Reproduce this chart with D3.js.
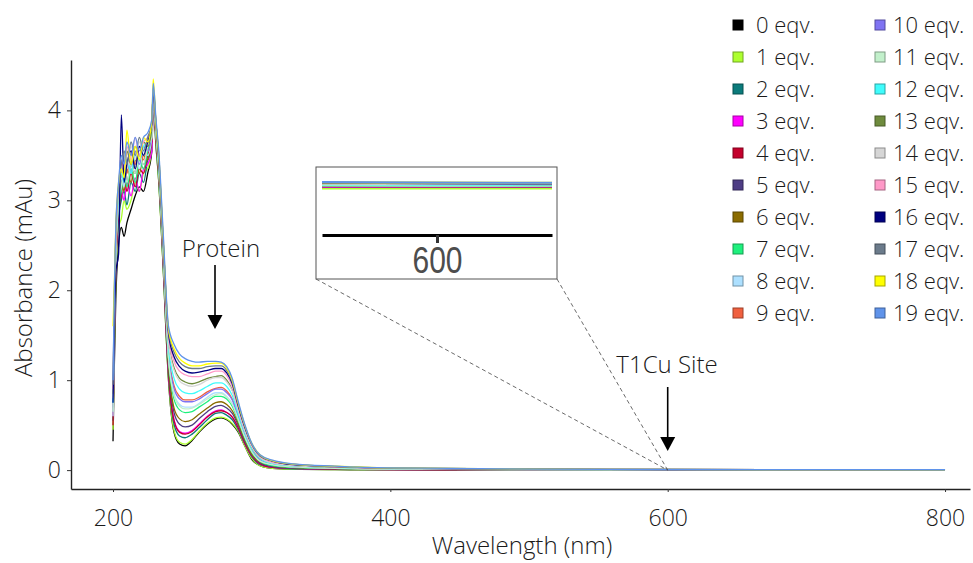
<!DOCTYPE html>
<html>
<head>
<meta charset="utf-8">
<script src="https://cdn.jsdelivr.net/npm/d3@7"></script>
<style>
  body { margin: 0; background: #fff; }
  svg { display: block; font-family: "Open Sans", sans-serif; font-weight: 300; }
</style>
</head>
<body>
<svg id="chart" width="973" height="563"></svg>
<script>
// wavelength grid (nm)
const wavelengths = [200, 201, 202, 204, 206, 208, 210, 213, 216, 219, 222, 225, 228, 229, 231, 233, 236,
  240, 244, 248, 252, 257, 262, 268, 274, 278, 282, 286, 290, 295, 300, 306, 315, 330, 360, 400, 500, 600, 800];

const eqvLabels = ["0 eqv.", "1 eqv.", "2 eqv.", "3 eqv.", "4 eqv.", "5 eqv.", "6 eqv.", "7 eqv.", "8 eqv.", "9 eqv.",
  "10 eqv.", "11 eqv.", "12 eqv.", "13 eqv.", "14 eqv.", "15 eqv.", "16 eqv.", "17 eqv.", "18 eqv.", "19 eqv."];

const eqvColors = ["#000000", "#adff2f", "#0b7b7b", "#ff00ff", "#c4002c", "#4e3d85", "#8b6c00", "#1ef07d", "#ade0ff", "#f0603f",
  "#7f73f2", "#c2f0cb", "#3ffcfc", "#6e8b3d", "#d6d6d6", "#ff99c8", "#000080", "#6b7b8b", "#ffff00", "#5f93ea"];

// absorbance (mAu) per titration step
const eqv0  = [0.32, 1.20, 1.90, 2.50, 2.70, 2.60, 2.75, 2.90, 3.05, 3.15, 3.10, 3.30, 3.55, 4.05, 3.60, 3.20, 2.30,
  1.00, 0.42, 0.29, 0.27, 0.33, 0.42, 0.51, 0.57, 0.58, 0.56, 0.51, 0.43, 0.27, 0.12, 0.05, 0.02, 0.01, 0.005, 0.003, 0.002, 0.001, 0.0];
const eqv1  = [0.45, 1.40, 2.10, 2.70, 2.80, 3.00, 2.90, 3.00, 3.20, 3.10, 3.30, 3.35, 3.60, 4.10, 3.65, 3.20, 2.30,
  1.01, 0.44, 0.31, 0.29, 0.34, 0.43, 0.52, 0.58, 0.59, 0.57, 0.52, 0.44, 0.27, 0.13, 0.05, 0.02, 0.01, 0.006, 0.003, 0.001, 0.0, 0.0];
const eqv2  = [0.55, 1.50, 2.20, 2.80, 3.00, 3.10, 2.95, 3.20, 3.10, 3.30, 3.20, 3.45, 3.60, 4.15, 3.70, 3.25, 2.35,
  1.05, 0.51, 0.38, 0.36, 0.40, 0.47, 0.56, 0.63, 0.64, 0.61, 0.56, 0.46, 0.29, 0.15, 0.06, 0.03, 0.015, 0.01, 0.005, 0.003, 0.002, 0.0];
const eqv3  = [0.60, 1.60, 2.30, 2.90, 3.10, 3.00, 3.20, 3.05, 3.25, 3.10, 3.35, 3.40, 3.55, 4.10, 3.70, 3.30, 2.40,
  1.08, 0.56, 0.43, 0.41, 0.44, 0.51, 0.60, 0.66, 0.67, 0.64, 0.59, 0.48, 0.30, 0.16, 0.07, 0.03, 0.02, 0.01, 0.006, 0.003, 0.002, 0.001];
const eqv4  = [0.50, 1.50, 2.20, 2.85, 3.05, 3.25, 3.10, 3.30, 3.15, 3.35, 3.30, 3.50, 3.65, 4.15, 3.70, 3.30, 2.40,
  1.08, 0.55, 0.42, 0.40, 0.43, 0.50, 0.59, 0.65, 0.66, 0.64, 0.59, 0.48, 0.30, 0.16, 0.07, 0.03, 0.02, 0.01, 0.006, 0.003, 0.003, 0.001];
const eqv5  = [0.65, 1.70, 2.40, 3.00, 3.20, 3.35, 3.20, 3.40, 3.30, 3.50, 3.40, 3.55, 3.70, 4.20, 3.75, 3.35, 2.45,
  1.13, 0.64, 0.51, 0.48, 0.50, 0.57, 0.65, 0.71, 0.72, 0.69, 0.63, 0.51, 0.32, 0.17, 0.08, 0.04, 0.02, 0.014, 0.008, 0.004, 0.003, 0.001];
const eqv6  = [0.70, 1.70, 2.40, 2.95, 3.20, 3.10, 3.35, 3.20, 3.45, 3.30, 3.50, 3.45, 3.70, 4.20, 3.70, 3.30, 2.45,
  1.17, 0.69, 0.57, 0.54, 0.56, 0.62, 0.69, 0.75, 0.76, 0.73, 0.66, 0.53, 0.34, 0.18, 0.09, 0.05, 0.027, 0.016, 0.009, 0.005, 0.003, 0.001];
const eqv7  = [0.75, 1.80, 2.50, 2.90, 3.10, 3.30, 3.15, 3.35, 3.20, 3.45, 3.35, 3.55, 3.75, 4.20, 3.75, 3.35, 2.50,
  1.23, 0.79, 0.67, 0.64, 0.65, 0.70, 0.76, 0.82, 0.82, 0.79, 0.71, 0.56, 0.36, 0.20, 0.10, 0.05, 0.03, 0.02, 0.01, 0.006, 0.004, 0.002];
const eqv8  = [0.60, 1.60, 2.35, 2.95, 3.25, 3.15, 3.40, 3.30, 3.50, 3.35, 3.55, 3.50, 3.70, 4.20, 3.75, 3.35, 2.50,
  1.26, 0.85, 0.73, 0.70, 0.70, 0.74, 0.81, 0.86, 0.86, 0.82, 0.74, 0.58, 0.38, 0.21, 0.11, 0.06, 0.036, 0.023, 0.012, 0.006, 0.004, 0.002];
const eqv9  = [0.80, 1.90, 2.55, 3.10, 3.30, 3.45, 3.30, 3.55, 3.40, 3.60, 3.45, 3.60, 3.80, 4.25, 3.80, 3.40, 2.50,
  1.32, 0.94, 0.82, 0.78, 0.78, 0.81, 0.87, 0.91, 0.92, 0.88, 0.79, 0.62, 0.40, 0.23, 0.12, 0.07, 0.04, 0.026, 0.014, 0.007, 0.005, 0.002];
const eqv10 = [0.70, 1.80, 2.50, 3.05, 3.35, 3.20, 3.45, 3.30, 3.55, 3.40, 3.60, 3.55, 3.75, 4.20, 3.80, 3.40, 2.50,
  1.30, 0.91, 0.79, 0.76, 0.76, 0.79, 0.85, 0.90, 0.90, 0.86, 0.78, 0.61, 0.39, 0.22, 0.12, 0.07, 0.04, 0.025, 0.014, 0.007, 0.005, 0.002];
const eqv11 = [0.65, 1.70, 2.40, 3.00, 3.15, 3.35, 3.20, 3.40, 3.30, 3.50, 3.40, 3.60, 3.70, 4.15, 3.75, 3.35, 2.45,
  1.25, 0.83, 0.71, 0.68, 0.69, 0.73, 0.79, 0.84, 0.85, 0.81, 0.73, 0.58, 0.37, 0.21, 0.10, 0.06, 0.035, 0.02, 0.012, 0.006, 0.004, 0.002];
const eqv12 = [0.75, 1.80, 2.50, 3.05, 3.30, 3.20, 3.45, 3.30, 3.50, 3.45, 3.60, 3.65, 3.80, 4.25, 3.80, 3.40, 2.55,
  1.37, 1.02, 0.90, 0.86, 0.85, 0.88, 0.93, 0.97, 0.97, 0.93, 0.83, 0.64, 0.42, 0.24, 0.13, 0.075, 0.047, 0.03, 0.016, 0.008, 0.005, 0.002];
const eqv13 = [0.85, 1.90, 2.60, 3.10, 3.40, 3.30, 3.55, 3.40, 3.60, 3.50, 3.65, 3.60, 3.80, 4.25, 3.80, 3.45, 2.55,
  1.44, 1.14, 1.02, 0.98, 0.96, 0.98, 1.02, 1.04, 1.05, 1.00, 0.89, 0.69, 0.45, 0.26, 0.14, 0.086, 0.054, 0.034, 0.019, 0.009, 0.006, 0.003];
const eqv14 = [0.80, 1.85, 2.55, 3.10, 3.35, 3.50, 3.35, 3.60, 3.45, 3.65, 3.50, 3.70, 3.80, 4.20, 3.80, 3.45, 2.55,
  1.42, 1.11, 0.99, 0.95, 0.93, 0.95, 1.00, 1.03, 1.03, 0.98, 0.88, 0.68, 0.44, 0.26, 0.14, 0.08, 0.05, 0.033, 0.018, 0.009, 0.006, 0.003];
const eqv15 = [0.90, 1.95, 2.60, 3.15, 3.45, 3.30, 3.60, 3.45, 3.70, 3.50, 3.65, 3.70, 3.85, 4.25, 3.85, 3.45, 2.60,
  1.49, 1.21, 1.10, 1.06, 1.04, 1.04, 1.07, 1.10, 1.10, 1.05, 0.93, 0.71, 0.46, 0.28, 0.15, 0.09, 0.06, 0.037, 0.02, 0.01, 0.007, 0.003];
const eqv16 = [0.75, 1.60, 2.20, 2.40, 3.95, 3.20, 3.40, 3.55, 3.35, 3.60, 3.50, 3.65, 3.85, 4.20, 3.85, 3.45, 2.60,
  1.52, 1.26, 1.15, 1.10, 1.08, 1.09, 1.11, 1.13, 1.13, 1.08, 0.96, 0.73, 0.48, 0.29, 0.16, 0.10, 0.06, 0.039, 0.022, 0.011, 0.007, 0.003];
const eqv17 = [0.95, 2.00, 2.65, 3.15, 3.40, 3.55, 3.40, 3.65, 3.50, 3.70, 3.55, 3.70, 3.85, 4.25, 3.85, 3.50, 2.60,
  1.55, 1.31, 1.20, 1.15, 1.13, 1.13, 1.15, 1.16, 1.16, 1.11, 0.98, 0.75, 0.49, 0.29, 0.16, 0.10, 0.065, 0.041, 0.023, 0.011, 0.007, 0.004];
const eqv18 = [1.60, 2.10, 2.70, 3.20, 3.35, 3.25, 3.78, 3.40, 3.60, 3.45, 3.70, 3.65, 3.90, 4.35, 3.85, 3.50, 2.65,
  1.57, 1.35, 1.24, 1.19, 1.16, 1.16, 1.18, 1.19, 1.19, 1.13, 1.00, 0.76, 0.50, 0.30, 0.17, 0.105, 0.067, 0.043, 0.024, 0.011, 0.008, 0.004];
const eqv19 = [1.00, 2.05, 2.70, 3.20, 3.50, 3.40, 3.65, 3.50, 3.70, 3.55, 3.70, 3.75, 3.90, 4.30, 3.90, 3.55, 2.70,
  1.60, 1.40, 1.29, 1.24, 1.21, 1.20, 1.21, 1.21, 1.20, 1.15, 1.02, 0.78, 0.51, 0.30, 0.17, 0.11, 0.07, 0.045, 0.025, 0.012, 0.008, 0.004];

const seriesValues = [eqv0, eqv1, eqv2, eqv3, eqv4, eqv5, eqv6, eqv7, eqv8, eqv9,
  eqv10, eqv11, eqv12, eqv13, eqv14, eqv15, eqv16, eqv17, eqv18, eqv19];

const xTicks = [200, 400, 600, 800];
const yTicks = [0, 1, 2, 3, 4];

const svg = d3.select("#chart");

const x = d3.scaleLinear().domain([169.7, 818]).range([71, 970]);
const y = d3.scaleLinear().domain([-0.21, 4.56]).range([489, 60]);

const series = seriesValues.map((vals, i) => ({
  label: eqvLabels[i],
  color: eqvColors[i],
  points: vals.map((v, j) => ({ w: wavelengths[j], a: v }))
}));

// axes
const xAxis = svg.append("g")
  .attr("transform", `translate(0,${y.range()[0]})`)
  .call(d3.axisBottom(x).tickValues(xTicks).tickSize(3).tickSizeOuter(0).tickPadding(18));
const yAxis = svg.append("g")
  .attr("transform", `translate(${x.range()[0]},0)`)
  .call(d3.axisLeft(y).tickValues(yTicks).tickFormat(d3.format("d")).tickSize(4).tickSizeOuter(0).tickPadding(6));

[xAxis, yAxis].forEach((ax) => {
  ax.select(".domain").attr("stroke", "#222").attr("stroke-width", 1.4);
  ax.selectAll(".tick line").attr("stroke", "#333").attr("stroke-width", 1);
  ax.selectAll(".tick text")
    .attr("fill", "#1a1a1a")
    .attr("font-size", "23px")
    .attr("font-family", "\"Open Sans\", sans-serif");
});

svg.append("text")
  .attr("x", 522)
  .attr("y", 554)
  .attr("text-anchor", "middle")
  .attr("font-size", "24px")
  .attr("fill", "#1a1a1a")
  .text("Wavelength (nm)");

svg.append("text")
  .attr("transform", "translate(32,278) rotate(-90)")
  .attr("text-anchor", "middle")
  .attr("font-size", "24px")
  .attr("fill", "#1a1a1a")
  .text("Absorbance (mAu)");

// spectra
const line = d3.line().curve(d3.curveMonotoneX).x((d) => x(d.w)).y((d) => y(d.a));

svg.append("g")
  .attr("class", "spectra")
  .selectAll("path")
  .data(series)
  .join("path")
  .attr("d", (d) => line(d.points))
  .attr("fill", "none")
  .attr("stroke", (d) => d.color)
  .attr("stroke-width", 1.3)
  .attr("stroke-linejoin", "round");

// annotations
function arrow(cx, y0, y1) {
  svg.append("line")
    .attr("x1", cx).attr("x2", cx)
    .attr("y1", y0).attr("y2", y1 - 12)
    .attr("stroke", "#000").attr("stroke-width", 1.6);
  svg.append("path")
    .attr("d", `M${cx - 7.5},${y1 - 14}L${cx + 7.5},${y1 - 14}L${cx},${y1}Z`)
    .attr("fill", "#000");
}

svg.append("text")
  .attr("x", 221).attr("y", 257)
  .attr("text-anchor", "middle")
  .attr("font-size", "24px")
  .attr("fill", "#1a1a1a")
  .text("Protein");
arrow(215, 265, 329);

svg.append("text")
  .attr("x", 667).attr("y", 373)
  .attr("text-anchor", "middle")
  .attr("font-size", "24px")
  .attr("fill", "#1a1a1a")
  .text("T1Cu Site");
arrow(x(600), 387, 451);

// inset (zoom around 600 nm)
const inset = { left: 316, top: 167, right: 557, bottom: 279 };
const xi = d3.scaleLinear().domain([585, 615]).range([322, 552]);
const yi = d3.scaleLinear().domain([0, 0.008]).range([188.5, 182.5]);

svg.append("line")
  .attr("x1", inset.left).attr("y1", inset.bottom)
  .attr("x2", x(600)).attr("y2", y(0))
  .attr("stroke", "#444").attr("stroke-width", 0.8).attr("stroke-dasharray", "4,3");
svg.append("line")
  .attr("x1", inset.right).attr("y1", inset.bottom)
  .attr("x2", x(600)).attr("y2", y(0))
  .attr("stroke", "#444").attr("stroke-width", 0.8).attr("stroke-dasharray", "4,3");

svg.append("rect")
  .attr("x", inset.left).attr("y", inset.top)
  .attr("width", inset.right - inset.left).attr("height", inset.bottom - inset.top)
  .attr("fill", "#fff").attr("stroke", "#555").attr("stroke-width", 1);

svg.append("clipPath").attr("id", "inset-clip")
  .append("rect")
  .attr("x", xi.range()[0]).attr("y", inset.top + 2)
  .attr("width", xi.range()[1] - xi.range()[0]).attr("height", 60);

const lineInset = d3.line().x((d) => xi(d.w)).y((d) => yi(d.a));

svg.append("g")
  .attr("clip-path", "url(#inset-clip)")
  .selectAll("path")
  .data(series)
  .join("path")
  .attr("d", (d) => lineInset(d.points))
  .attr("fill", "none")
  .attr("stroke", (d) => d.color)
  .attr("stroke-width", 2);

const insetAxis = svg.append("g")
  .attr("transform", "translate(0,235)")
  .call(d3.axisBottom(xi).tickValues([600]).tickSize(8).tickSizeOuter(0));
insetAxis.select(".domain").attr("stroke", "#000").attr("stroke-width", 3);
insetAxis.selectAll(".tick line").attr("stroke", "#333").attr("stroke-width", 3);
insetAxis.selectAll(".tick text")
  .attr("y", null).attr("dy", null)
  .attr("transform", "translate(0,38) scale(1,1.2)")
  .attr("fill", "#4d4d4d")
  .attr("font-size", "30px")
  .attr("font-weight", 400)
  .attr("font-family", "\"Liberation Sans\", Arial, sans-serif");

// legend
const legend = svg.append("g").attr("class", "legend");
const items = legend.selectAll("g")
  .data(series)
  .join("g")
  .attr("transform", (d, i) => `translate(${i < 10 ? 733 : 875},${25 + (i % 10) * 32})`);

items.append("rect")
  .attr("x", 0).attr("y", -5)
  .attr("width", 10).attr("height", 10)
  .attr("fill", (d) => d.color)
  .attr("stroke", (d) => d3.color(d.color).darker(1.2))
  .attr("stroke-width", 1);

items.append("text")
  .attr("x", (d, i) => (i < 10 ? 23 : 18))
  .attr("y", 8)
  .attr("font-size", "22px")
  .attr("fill", "#1a1a1a")
  .text((d) => d.label);
</script>
</body>
</html>
